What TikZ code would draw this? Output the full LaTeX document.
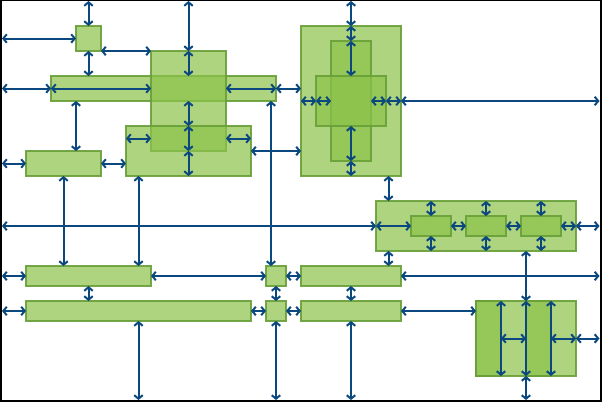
\documentclass[tikz,border=0pt]{standalone}
\usetikzlibrary{arrows.meta,calc}
\definecolor{boxfill}{RGB}{140,195,74}
\definecolor{boxline}{RGB}{104,159,56}
\definecolor{arrcol}{RGB}{12,72,128}
\tikzset{
  box/.style={draw=boxline, line width=1.6pt, fill=boxfill, fill opacity=0.7,
    draw opacity=0.9, inner sep=0pt, outer sep=0pt, anchor=north west},
  link/.style={draw=arrcol, line width=2pt,
    {Straight Barb[length=3.5pt,width=8.5pt]}-{Straight Barb[length=3.5pt,width=8.5pt]}},
}
\newcommand{\bx}[5]{\node[box, minimum width=#4pt, minimum height=#5pt] (#1) at (#2,#3) {};}
\begin{document}
\begin{tikzpicture}[x=1pt,y=-1pt]
\useasboundingbox (0,0) rectangle (602,402);
\fill[black] (0,0) rectangle (602,402);
\fill[white] (2,1) rectangle (599.5,400);
% boxes
\bx{A}{76}{26}{25}{25}
\bx{B}{51}{76}{225}{25}
\bx{C}{151}{51}{75}{100}
\bx{D}{126}{126}{125}{50}
\bx{E}{26}{151}{75}{25}
\bx{F}{301}{26}{100}{150}
\bx{F1}{331}{41}{40}{120}
\bx{F2}{316}{76}{70}{50}
\bx{G}{376}{201}{200}{50}
\bx{G1}{411}{216}{40}{20}
\bx{G2}{466}{216}{40}{20}
\bx{G3}{521}{216}{40}{20}
\bx{H}{26}{266}{125}{20}
\bx{I}{26}{301}{225}{20}
\bx{J}{266}{266}{20}{20}
\bx{K}{266}{301}{20}{20}
\bx{L}{301}{266}{100}{20}
\bx{M}{301}{301}{100}{20}
\bx{N}{476}{301}{100}{75}
\bx{N1}{476}{301}{25}{75}
\bx{N2}{526}{301}{25}{75}
% frame edges and helper coordinates
\coordinate (top) at (0,1);
\coordinate (lft) at (2,0);
\coordinate (rgt) at (599.5,0);
\coordinate (bot) at (0,400);
\coordinate (xa) at (138.5,0);
\coordinate (xb) at (271,0);
\coordinate (xc) at (388.5,0);
\coordinate (Dw) at ($(D.north west)!0.25!(D.south west)$);
\coordinate (De) at ($(D.north east)!0.25!(D.south east)$);
% connectors
\draw[link] (A.north |- top) -- (A.north);
\draw[link] (A.west -| lft) -- (A.west);
\draw[link] (A.south east) -- (C.north west);
\draw[link] (A.south) -- (A.south |- B.north);
\draw[link] (B.west -| lft) -- (B.west);
\draw[link] (B.west) -- (B.west -| C.west);
\draw[link] (B.east -| C.east) -- (B.east);
\draw[link] (B.east) -- (B.east -| F.west);
\draw[link] (C.north |- top) -- (C.north);
\draw[link] (C.north) -- (C.north |- B.north);
\draw[link] (C.south |- B.south) -- (D.north);
\draw[link] (D.north) -- (C.south);
\draw[link] (C.south) -- (D.south);
\draw[link] (Dw) -- (Dw -| C.west);
\draw[link] (De -| C.east) -- (De);
\draw[link] (D.east) -- (D.east -| F.west);
\draw[link] (A.south west |- B.south) -- (A.south west |- E.north);
\draw[link] (E.east) -- (E.east -| D.west);
\draw[link] (E.west -| lft) -- (E.west);
\draw[link] (E.south) -- (E.south |- H.north);
\draw[link] (xa |- D.south) -- (xa |- H.north);
\draw[link] (xa |- I.south) -- (xa |- bot);
\draw[link] (G.west -| lft) -- (G.west);
\draw[link] (G.west) -- (G1.west);
\draw[link] (xb |- B.south) -- (xb |- J.north);
\draw[link] (N.north |- G.south) -- (N.north);
\draw[link] (N.north) -- (N.south);
\draw[link] (N.south) -- (N.south |- bot);
\draw[link] (H.east) -- (J.west);
\draw[link] (J.east) -- (L.west);
\draw[link] (H.west -| lft) -- (H.west);
\draw[link] (H.south) -- (H.south |- I.north);
\draw[link] (I.west -| lft) -- (I.west);
\draw[link] (I.east) -- (K.west);
\draw[link] (K.east) -- (M.west);
\draw[link] (J.south) -- (K.north);
\draw[link] (K.south) -- (K.south |- bot);
\draw[link] (L.south) -- (M.north);
\draw[link] (M.south) -- (M.south |- bot);
\draw[link] (M.east) -- (M.east -| N.west);
\draw[link] (L.east) -- (L.east -| rgt);
\draw[link] (xc |- F.south) -- (xc |- G.north);
\draw[link] (xc |- G.south) -- (xc |- L.north);
\draw[link] (G1.north) -- (G1.north |- G.north);
\draw[link] (G1.south) -- (G1.south |- G.south);
\draw[link] (G2.north) -- (G2.north |- G.north);
\draw[link] (G2.south) -- (G2.south |- G.south);
\draw[link] (G3.north) -- (G3.north |- G.north);
\draw[link] (G3.south) -- (G3.south |- G.south);
\draw[link] (G1.east) -- (G2.west);
\draw[link] (G2.east) -- (G3.west);
\draw[link] (G3.east) -- (G.east);
\draw[link] (G.east) -- (G.east -| rgt);
\draw[link] (F.north |- top) -- (F.north);
\draw[link] (F.north) -- (F1.north);
\draw[link] (F1.north) -- (F2.north);
\draw[link] (F2.south) -- (F1.south);
\draw[link] (F1.south) -- (F.south);
\draw[link] (F.west) -- (F2.west);
\draw[link] (F2.west) -- (F1.west);
\draw[link] (F1.east) -- (F2.east);
\draw[link] (F2.east) -- (F.east);
\draw[link] (F.east) -- (F.east -| rgt);
\draw[link] (N1.north east) -- (N1.south east);
\draw[link] (N2.north east) -- (N2.south east);
\draw[link] (N1.east) -- (N2.west);
\draw[link] (N2.east) -- (N.east);
\draw[link] (N.east) -- (N.east -| rgt);
\end{tikzpicture}
\end{document}
